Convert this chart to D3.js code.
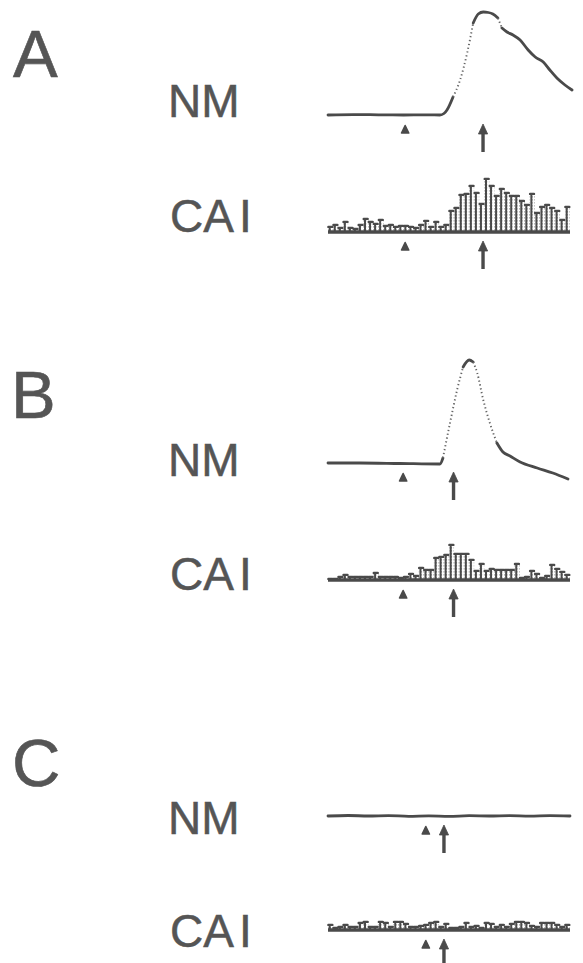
<!DOCTYPE html>
<html><head><meta charset="utf-8">
<script src="https://cdn.jsdelivr.net/npm/d3@7"></script>
<style>body{margin:0;background:#fff}svg{display:block}</style>
</head><body><div id="chart"></div>
<script>
// ---------- data ----------
const panels = ["A", "B", "C"];
const rowLabels = ["NM", "CAI"];
// NM traces: time (bin units, 0..48) and amplitude (relative units)
const nmTimeA = [0, 5, 10, 15, 20, 22.2, 23.0, 23.6, 24.8, 26.2, 27.6, 28.8, 29.8, 30.8, 31.8, 32.7, 33.7, 34.5, 35.5, 36.7, 38.1, 39.7, 41.1, 42.7, 44.0, 45.4, 47.0, 48.4];
const nmValA  = [0, 0.4, 0.2, 0, 0.2, 0, 1.5, 5, 18, 35, 62, 92, 101, 103, 102.5, 101, 97, 87, 83, 80, 75, 65, 58, 53, 45, 37, 30, 25];
const nmTimeB = [0, 6.3, 14.3, 22.2, 22.8, 24.2, 25.6, 26.8, 28.0, 28.8, 29.6, 30.8, 32.1, 33.5, 34.7, 36.1, 38.1, 41.5, 44.6, 47.6];
const nmValB  = [0, 0, -0.5, -1, 5, 40, 73, 96, 103, 101, 90, 63, 40, 20, 11, 7, 1, -5, -10, -16];
const nmTimeC = [0, 4, 8, 12, 16, 20, 24, 28, 32, 36, 40, 44, 48];
const nmValC  = [0, 0.5, 0, 0.4, -0.3, 0.2, -0.4, 0.3, 0, 0.4, -0.2, 0.3, 0];
// CAI histograms: 48 bins
const caiA = [6, 8, 5, 11, 5, 4, 8, 14, 11, 9, 13, 7, 8, 6, 7, 7, 6, 5, 8, 12, 6, 11, 6, 8,
              22, 25, 38, 39, 47, 40, 29, 54, 47, 37, 44, 40, 37, 37, 32, 28, 39, 20, 26, 28, 25, 22, 13, 26];
const caiB = [2, 2, 4, 6, 4, 4, 4, 4, 4, 8, 4, 4, 4, 4, 3, 4, 7, 5, 13, 11, 11, 23, 24, 26,
              36, 27, 27, 27, 21, 10, 17, 10, 12, 11, 11, 11, 11, 17, 3, 4, 10, 7, 3, 5, 16, 12, 9, 6];
const caiC = [6, 3, 4, 6, 4, 4, 8, 9, 4, 4, 9, 8, 4, 9, 9, 7, 4, 4, 5, 6, 8, 9, 4, 7,
              3, 3, 4, 8, 4, 5, 3, 8, 7, 4, 6, 4, 7, 9, 9, 8, 5, 4, 8, 8, 8, 6, 4, 6];
// event markers (time, bin units): triangle = stimulus onset, arrow = response
const triTimes = [15.3, 14.9, 19.4];
const arrowTimes = [30.75, 24.9, 23.0];

// ---------- layout ----------
const W = 583, H = 963;
const ink = "#4a4a4a", textCol = "#555";
const font = "Liberation Sans, Arial, Helvetica, sans-serif";
const svg = d3.select("#chart").append("svg").attr("width", W).attr("height", H);
const defs = svg.append("defs");
const pat = defs.append("pattern").attr("id", "dots").attr("patternUnits", "userSpaceOnUse")
  .attr("width", 2.52).attr("height", 3);
pat.append("rect").attr("x", 0).attr("y", 0).attr("width", 0.9).attr("height", 1.6).attr("fill", "#999");

const x = d3.scaleLinear().domain([0, 48]).range([328, 570]);
const yNM = d3.scaleLinear().domain([0, 100]).range([0, -100]);
const yCAI = d3.scaleLinear().domain([0, 50]).range([0, -50]);

const letterY = [77, 418, 786], letterX = [13, 11, 12];
const nmBase = [115, 463, 816], nmLabelY = [117, 476, 834];
const caiBase = [232, 580, 930], caiLabelY = [232, 590, 947];

const nmTimes = [nmTimeA, nmTimeB, nmTimeC], nmVals = [nmValA, nmValB, nmValC];
const cais = [caiA, caiB, caiC];

function markers(g, i) {
  const tx = x(triTimes[i]);
  g.append("path").attr("d", `M${tx},10.5 L${tx + 3.6},18 L${tx - 3.6},18 Z`)
    .attr("fill", ink).attr("stroke", ink).attr("stroke-width", 1.6).attr("stroke-linejoin", "round");
  const ax = x(arrowTimes[i]);
  g.append("line").attr("x1", ax).attr("x2", ax).attr("y1", 16).attr("y2", 37)
    .attr("stroke", ink).attr("stroke-width", 3.4);
  g.append("path").attr("d", `M${ax},9 L${ax + 4.6},19 L${ax - 4.6},19 Z`)
    .attr("fill", ink).attr("stroke", ink).attr("stroke-width", 0.8).attr("stroke-linejoin", "round");
}

const lineGen = d3.line().curve(d3.curveMonotoneX);

function label(txt, xx, yy, size) {
  const t = svg.append("text").attr("x", xx).attr("y", yy)
    .attr("font-family", font).attr("font-size", size).attr("fill", textCol)
    .attr("stroke", textCol).attr("stroke-width", size > 50 ? 0.6 : 0.5);
  return t;
}

panels.forEach((p, i) => {
  label(p, letterX[i], letterY[i], 67).text(p);
  label(rowLabels[0], 168, nmLabelY[i], 46).text(rowLabels[0]);
  const c = label("", 170, caiLabelY[i], 46);
  c.append("tspan").text(rowLabels[1].slice(0, 2));
  c.append("tspan").attr("dx", 5).text(rowLabels[1].slice(2));

  // NM trace: split into runs of gentle (solid) and steep (dotted) segments
  const gN = svg.append("g").attr("transform", `translate(0,${nmBase[i]})`);
  const pts = nmTimes[i].map((t, k) => [x(t), yNM(nmVals[i][k])]);
  const runs = [];
  for (let k = 0; k < pts.length - 1; k++) {
    const a = pts[k], b = pts[k + 1];
    const steep = Math.abs((b[1] - a[1]) / (b[0] - a[0])) > 2.2;
    const last = runs[runs.length - 1];
    if (last && last.steep === steep) last.pts.push(b);
    else runs.push({ steep, pts: [a, b] });
  }
  runs.forEach(r => {
    gN.append("path").attr("d", lineGen(r.pts)).attr("fill", "none")
      .attr("stroke", r.steep ? "#666" : ink)
      .attr("stroke-width", r.steep ? 1.9 : 2.8)
      .attr("stroke-dasharray", r.steep ? "1.3,2.6" : null)
      .attr("stroke-linecap", r.steep ? "butt" : "round")
      .attr("stroke-linejoin", "round");
  });
  markers(gN, i);

  // CAI histogram
  const gC = svg.append("g").attr("transform", `translate(0,${caiBase[i]})`);
  const bars = gC.selectAll("g.bar").data(cais[i]).join("g").attr("class", "bar");
  bars.append("rect")
    .attr("x", (d, k) => x(k)).attr("width", (d, k) => x(k + 1) - x(k))
    .attr("y", d => yCAI(d)).attr("height", d => -yCAI(d))
    .attr("fill", "url(#dots)");
  bars.append("line")
    .attr("x1", (d, k) => x(k) + 1.7).attr("x2", (d, k) => x(k) + 1.7)
    .attr("y1", 0).attr("y2", d => yCAI(d))
    .attr("stroke", ink).attr("stroke-width", 2);
  bars.append("line")
    .attr("x1", (d, k) => x(k) + 0.4).attr("x2", (d, k) => x(k + 1) - 0.7)
    .attr("y1", d => yCAI(d) + 0.9).attr("y2", d => yCAI(d) + 0.9)
    .attr("stroke", ink).attr("stroke-width", 2.4).attr("stroke-linecap", "round");
  gC.append("line").attr("x1", x(0)).attr("x2", x(48)).attr("y1", 0).attr("y2", 0)
    .attr("stroke", ink).attr("stroke-width", 3.4);
  markers(gC, i);
});
</script></body></html>
